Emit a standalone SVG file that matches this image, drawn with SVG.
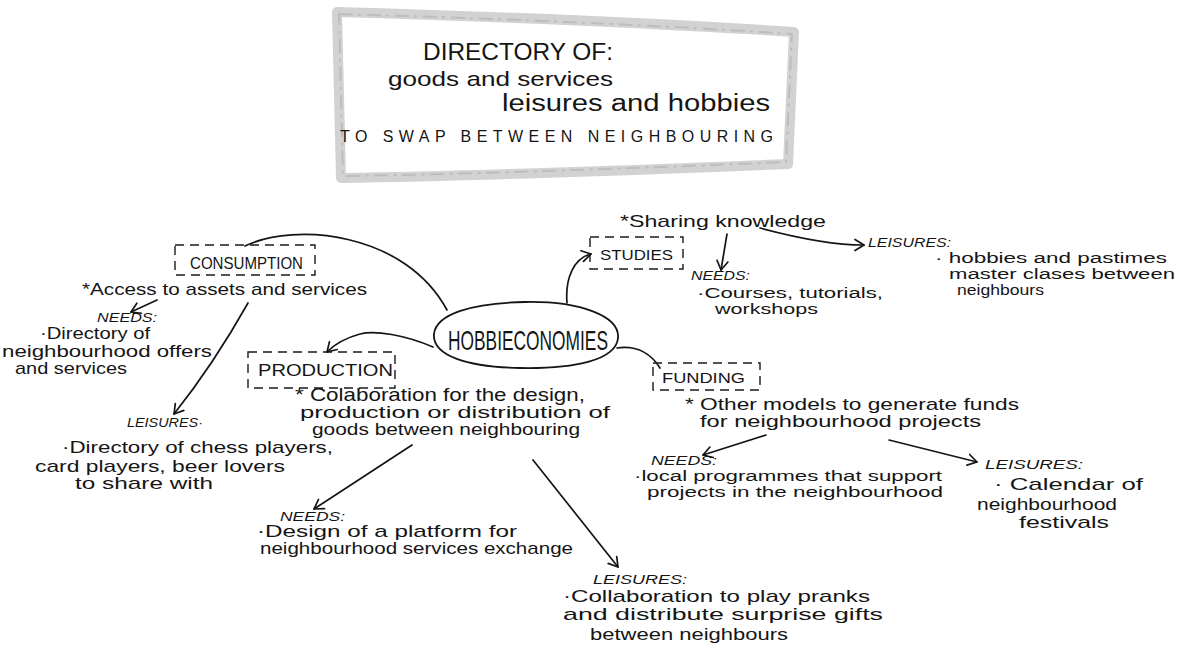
<svg xmlns="http://www.w3.org/2000/svg" width="1192" height="656" viewBox="0 0 1192 656">
<style>
  text { font-family: "Liberation Sans", "DejaVu Sans", sans-serif; fill: #151515; }
  .b { font-size: 17px; }
  .s { font-size: 15.5px; }
  .lab { font-size: 12px; font-style: italic; }
  .box { fill: none; stroke: #1a1a1a; stroke-width: 1.4; stroke-dasharray: 9 6; }
  .con { fill: none; stroke: #151515; stroke-width: 1.7; stroke-linecap: round; }
</style>
<defs>
  <marker id="ah" viewBox="-10 -7 12 14" refX="0" refY="0" markerWidth="12" markerHeight="14" markerUnits="userSpaceOnUse" orient="auto">
    <path d="M-9,-5.5 L0,0 L-9,5.5" fill="none" stroke="#151515" stroke-width="1.7" stroke-linecap="round" stroke-linejoin="round"/>
  </marker>
</defs>
<rect width="1192" height="656" fill="#ffffff"/>

<g id="title">
  <path d="M337,12 C480,16 640,22 794,32 L788,164 C640,170 480,176 341,178 Z" fill="#ffffff" stroke="#d2d2d2" stroke-width="10" stroke-linejoin="round"/>
  <path d="M339,14 C480,18 640,24 792,34 L786,162 C640,168 480,174 343,176 Z" fill="none" stroke="#bdbdbd" stroke-width="2" stroke-dasharray="14 5 3 6" stroke-linejoin="round"/>
  <text x="423" y="60" font-size="24" textLength="190" lengthAdjust="spacingAndGlyphs">DIRECTORY OF:</text>
  <text x="388" y="86" font-size="21" textLength="225" lengthAdjust="spacingAndGlyphs">goods and services</text>
  <text x="502" y="111" font-size="23" textLength="268" lengthAdjust="spacingAndGlyphs">leisures and hobbies</text>
  <text x="340" y="142" font-size="16" textLength="433" lengthAdjust="spacing">TO SWAP BETWEEN NEIGHBOURING</text>
</g>

<g id="connectors">
  <path class="con" d="M245,246 C295,222 405,232 447,310"/>
  <path class="con" d="M433,347 C405,335 375,330 360,334 C345,338 334,345 327,352" marker-end="url(#ah)"/>
  <path class="con" d="M567,303 C565,278 574,258 591,254" marker-end="url(#ah)"/>
  <path class="con" d="M617,348 C638,345 652,355 660,368"/>
  <path class="con" d="M157,300 L131,312" marker-end="url(#ah)"/>
  <path class="con" d="M248,303 C230,335 205,375 174,414" marker-end="url(#ah)"/>
  <path class="con" d="M727,234 L721,270" marker-end="url(#ah)"/>
  <path class="con" d="M760,228 C790,236 830,245 864,245" marker-end="url(#ah)"/>
  <path class="con" d="M412,445 L314,509" marker-end="url(#ah)"/>
  <path class="con" d="M533,460 L618,567" marker-end="url(#ah)"/>
  <path class="con" d="M766,435 L703,455" marker-end="url(#ah)"/>
  <path class="con" d="M889,440 L977,462" marker-end="url(#ah)"/>
</g>

<g id="hobbieconomies">
  <path d="M525,302 C580,301 620,316 618,338 C616,360 575,369 520,368 C468,367 432,356 434,334 C436,314 472,303 525,302 Z" fill="none" stroke="#151515" stroke-width="1.8"/>
  <text x="448" y="350" font-size="28" textLength="160" lengthAdjust="spacingAndGlyphs">HOBBIECONOMIES</text>
</g>

<g id="consumption">
  <rect class="box" x="175" y="245" width="140" height="30"/>
  <text x="190" y="269" font-size="17" textLength="113" lengthAdjust="spacingAndGlyphs">CONSUMPTION</text>
  <text class="b" x="82" y="295" textLength="285" lengthAdjust="spacingAndGlyphs">*Access to assets and services</text>
</g>
<g id="consumption-needs">
  <text class="lab" x="97" y="322" textLength="60" lengthAdjust="spacingAndGlyphs">NEEDS:</text>
  <text class="b" x="40" y="339" textLength="110" lengthAdjust="spacingAndGlyphs">·Directory of</text>
  <text class="b" x="2" y="357" textLength="210" lengthAdjust="spacingAndGlyphs">neighbourhood offers</text>
  <text class="b" x="15" y="374" textLength="112" lengthAdjust="spacingAndGlyphs">and services</text>
</g>
<g id="consumption-leisures">
  <text class="lab" x="127" y="427" textLength="76" lengthAdjust="spacingAndGlyphs">LEISURES·</text>
  <text class="b" x="62" y="453" textLength="271" lengthAdjust="spacingAndGlyphs">·Directory of chess players,</text>
  <text class="b" x="35" y="472" textLength="250" lengthAdjust="spacingAndGlyphs">card players, beer lovers</text>
  <text class="b" x="75" y="489" textLength="138" lengthAdjust="spacingAndGlyphs">to share with</text>
</g>

<g id="studies">
  <rect class="box" x="590" y="237" width="93" height="32"/>
  <text x="600" y="260" font-size="15" textLength="73" lengthAdjust="spacingAndGlyphs">STUDIES</text>
  <text class="b" x="620" y="227" textLength="206" lengthAdjust="spacingAndGlyphs">*Sharing knowledge</text>
</g>
<g id="studies-needs">
  <text class="lab" x="691" y="280" textLength="59" lengthAdjust="spacingAndGlyphs">NEEDS:</text>
  <text class="s" x="697" y="298" textLength="186" lengthAdjust="spacingAndGlyphs">·Courses, tutorials,</text>
  <text class="s" x="715" y="314" textLength="103" lengthAdjust="spacingAndGlyphs">workshops</text>
</g>
<g id="studies-leisures">
  <text class="lab" x="868" y="247" textLength="83" lengthAdjust="spacingAndGlyphs">LEISURES:</text>
  <text class="s" x="935" y="263" textLength="232" lengthAdjust="spacingAndGlyphs">· hobbies and pastimes</text>
  <text class="s" x="949" y="279" textLength="226" lengthAdjust="spacingAndGlyphs">master clases between</text>
  <text class="s" x="957" y="295" textLength="87" lengthAdjust="spacingAndGlyphs">neighbours</text>
</g>

<g id="production">
  <rect class="box" x="248" y="352" width="147" height="36"/>
  <text x="258" y="376" font-size="17" textLength="135" lengthAdjust="spacingAndGlyphs">PRODUCTION</text>
  <text x="295" y="401" font-size="19" textLength="290" lengthAdjust="spacingAndGlyphs">* Colaboration for the design,</text>
  <text class="b" x="300" y="418" textLength="310" lengthAdjust="spacingAndGlyphs">production or distribution of</text>
  <text class="b" x="312" y="435" textLength="268" lengthAdjust="spacingAndGlyphs">goods between neighbouring</text>
</g>
<g id="production-needs">
  <text class="lab" x="280" y="521" textLength="65" lengthAdjust="spacingAndGlyphs">NEEDS:</text>
  <text class="b" x="257" y="537" textLength="260" lengthAdjust="spacingAndGlyphs">·Design of a platform for</text>
  <text class="b" x="260" y="554" textLength="313" lengthAdjust="spacingAndGlyphs">neighbourhood services exchange</text>
</g>
<g id="production-leisures">
  <text class="lab" x="593" y="584" font-size="13" textLength="94" lengthAdjust="spacingAndGlyphs">LEISURES:</text>
  <text class="b" x="563" y="602" textLength="307" lengthAdjust="spacingAndGlyphs">·Collaboration to play pranks</text>
  <text class="b" x="563" y="620" textLength="320" lengthAdjust="spacingAndGlyphs">and distribute surprise gifts</text>
  <text class="b" x="590" y="640" textLength="198" lengthAdjust="spacingAndGlyphs">between neighbours</text>
</g>

<g id="funding">
  <rect class="box" x="653" y="363" width="107" height="27"/>
  <text x="662" y="383" font-size="15" textLength="83" lengthAdjust="spacingAndGlyphs">FUNDING</text>
  <text class="b" x="685" y="410" textLength="334" lengthAdjust="spacingAndGlyphs">* Other models to generate funds</text>
  <text class="b" x="700" y="427" textLength="281" lengthAdjust="spacingAndGlyphs">for neighbourhood projects</text>
</g>
<g id="funding-needs">
  <text class="lab" x="651" y="465" font-size="13" textLength="66" lengthAdjust="spacingAndGlyphs">NEEDS:</text>
  <text class="s" x="634" y="481" textLength="308" lengthAdjust="spacingAndGlyphs">·local programmes that support</text>
  <text class="s" x="647" y="497" textLength="296" lengthAdjust="spacingAndGlyphs">projects in the neighbourhood</text>
</g>
<g id="funding-leisures">
  <text class="lab" x="985" y="469" font-size="14" textLength="98" lengthAdjust="spacingAndGlyphs">LEISURES:</text>
  <text class="b" x="994" y="490" textLength="149" lengthAdjust="spacingAndGlyphs">· Calendar of</text>
  <text class="b" x="977" y="510" textLength="140" lengthAdjust="spacingAndGlyphs">neighbourhood</text>
  <text class="b" x="1019" y="528" textLength="90" lengthAdjust="spacingAndGlyphs">festivals</text>
</g>
</svg>
